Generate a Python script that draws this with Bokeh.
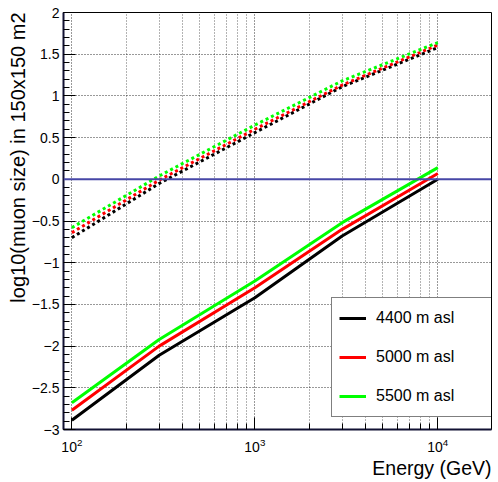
from bokeh.plotting import figure
from bokeh.models import (FixedTicker, CustomJSTickFormatter, Legend, LegendItem,
                          Title, Span, Range1d)
from bokeh.embed import file_html
from bokeh.resources import INLINE

# Primary energies (GeV)
energy = [100, 300, 1000, 3000, 10000]

# log10(muon size) in a 150x150 m2 area, by altitude
muon_4400 = [-2.89, -2.11, -1.42, -0.68, 0.00]
muon_5000 = [-2.77, -2.00, -1.30, -0.60, 0.07]
muon_5500 = [-2.68, -1.92, -1.22, -0.52, 0.14]

# second (dotted) set of curves
dot_4400 = [-0.70, -0.05, 0.56, 1.11, 1.58]
dot_5000 = [-0.64, -0.01, 0.60, 1.13, 1.61]
dot_5500 = [-0.58, 0.04, 0.65, 1.18, 1.64]

labels = ["4400 m asl", "5000 m asl", "5500 m asl"]
colors = ["black", "#ff0000", "#00ff00"]

FONT = "Liberation Sans"

p = figure(width=498, height=482, x_axis_type="log",
           x_range=Range1d(90, 19650), y_range=Range1d(-3, 2),
           output_backend="svg", toolbar_location=None,
           min_border_left=63, min_border_right=7,
           min_border_top=12, min_border_bottom=53)
p.background_fill_color = "white"
p.border_fill_color = "white"
p.outline_line_color = "black"
p.outline_line_width = 1

# axes
p.xaxis.ticker = FixedTicker(ticks=[100, 1000, 10000],
                             minor_ticks=[200, 300, 400, 500, 600, 700, 800, 900,
                                          2000, 3000, 4000, 5000, 6000, 7000, 8000, 9000])
yt = [-3 + 0.5 * i for i in range(11)]
ymin = [round(-3 + 0.1 * i, 1) for i in range(51)]
p.yaxis.ticker = FixedTicker(ticks=yt, minor_ticks=ymin)
p.yaxis.formatter = CustomJSTickFormatter(code="return String(tick).replace('-', '\u2212');")

for ax in (p.xaxis, p.yaxis):
    ax.major_tick_in = 12
    ax.major_tick_out = 0
    ax.minor_tick_in = 6
    ax.minor_tick_out = 0
    ax.axis_line_width = 2
    ax.axis_line_color = "#111133"
    ax.major_tick_line_color = "black"
    ax.minor_tick_line_color = "black"
    ax.major_label_text_font = FONT
    ax.major_label_text_font_size = "14px"
    ax.major_label_text_color = "black"
p.yaxis.major_label_standoff = 4
p.xaxis.major_label_standoff = 8

# grid
p.xgrid.grid_line_color = "black"
p.xgrid.grid_line_dash = "1 2"
p.xgrid.grid_line_alpha = 0.8
p.xgrid.minor_grid_line_color = "black"
p.xgrid.minor_grid_line_dash = "1 2"
p.xgrid.minor_grid_line_alpha = 0.6
p.ygrid.grid_line_color = "black"
p.ygrid.grid_line_dash = "1 2"
p.ygrid.grid_line_alpha = 0.8

# zero line
p.add_layout(Span(location=0, dimension="width", line_color="#4646a6", line_width=2))

# curves
solid = []
for ys, c in zip([dot_4400, dot_5000, dot_5500], colors):
    p.line(energy, ys, line_color=c, line_width=3, line_dash="3 3")
for ys, c in zip([muon_4400, muon_5000, muon_5500], colors):
    solid.append(p.line(energy, ys, line_color=c, line_width=3))

legend = Legend(items=[LegendItem(label=l, renderers=[r]) for l, r in zip(labels, solid)],
                location=(268, 12), orientation="vertical",
                padding=7, spacing=13, margin=0,
                glyph_width=27, glyph_height=26, label_height=26,
                label_width=109, label_standoff=10,
                label_text_font=FONT, label_text_font_size="16px",
                label_text_color="black",
                border_line_color="black", border_line_width=1,
                background_fill_color="white", background_fill_alpha=1)
p.add_layout(legend)

# axis titles
p.add_layout(Title(text="log10(muon size) in 150x150 m2", align="right",
                   text_font=FONT, text_font_size="20px", text_font_style="normal",
                   text_color="black", standoff=0, offset=0), "left")
p.add_layout(Title(text="Energy (GeV)", align="right",
                   text_font=FONT, text_font_size="19.5px", text_font_style="normal",
                   text_color="black", standoff=0, offset=0), "below")

open("out.html", "w").write(file_html(p, INLINE))
